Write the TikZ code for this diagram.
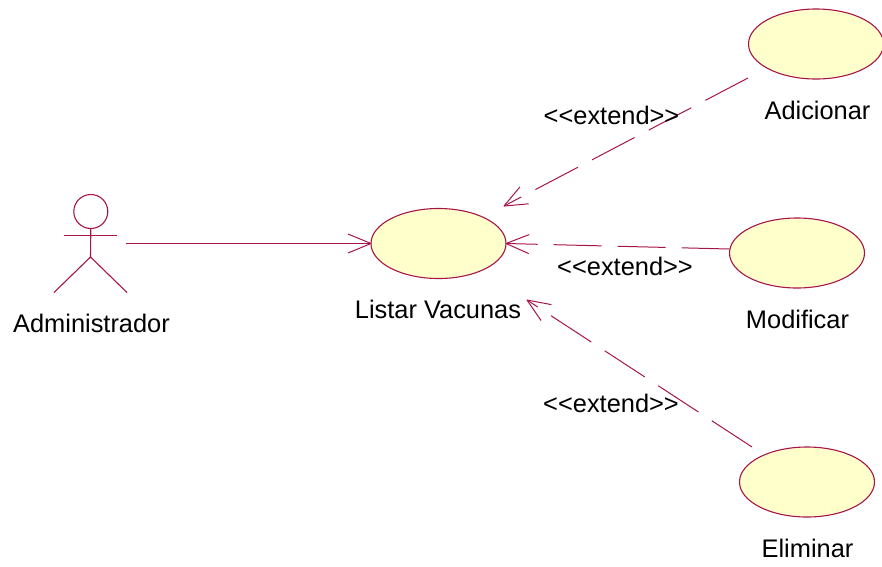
\documentclass[tikz,border=0pt]{standalone}
\usepackage{fontspec}
\setmainfont{Liberation Sans}
\usetikzlibrary{shapes.geometric,arrows.meta}
\definecolor{umlline}{HTML}{A6154A}
\definecolor{umlfill}{HTML}{FFFFCB}
\pgfdeclarearrow{
  name=OpenV,
  setup code={%
    \pgfarrowssettipend{0pt}%
    \pgfarrowssetlineend{-0.5pt}%
    \pgfarrowssetbackend{-23pt}%
    \pgfarrowssetvisualbackend{-23pt}%
    \pgfarrowshullpoint{-23pt}{9.5pt}%
    \pgfarrowshullpoint{-23pt}{-9.5pt}%
    \pgfarrowshullpoint{0pt}{0pt}%
  },
  drawing code={%
    \pgfsetdash{}{0pt}%
    \pgfsetroundjoin
    \pgfpathmoveto{\pgfpoint{-23pt}{9.5pt}}%
    \pgfpathlineto{\pgfpointorigin}%
    \pgfpathlineto{\pgfpoint{-23pt}{-9.5pt}}%
    \pgfusepathqstroke
  },
}
\tikzset{
  usecase/.style={ellipse,draw=umlline,fill=umlfill,line width=1.1pt,minimum width=135pt,minimum height=70pt,inner sep=0pt,outer sep=0pt},
  actorline/.style={draw=umlline,line width=1.1pt},
  assoc/.style={draw=umlline,line width=1pt,-{OpenV}},
  extendline/.style={assoc,dash pattern=on 48pt off 16pt},
  lbl/.style={anchor=base,inner sep=0pt,font=\fontsize{25.4}{30}\selectfont,text=black},
}
\begin{document}
\begin{tikzpicture}[x=1pt,y=-1pt]
\useasboundingbox (0,0) rectangle (882,566);
\clip (0,0) rectangle (882,566);
% actor
\node[circle,actorline,minimum size=34pt,inner sep=0pt,outer sep=0pt] (head) at (90.8,211.5) {};
\coordinate (hip) at (90.5,257);
\coordinate (armL) at (64,235.5);
\coordinate (armR) at (117,235.5);
\coordinate (footL) at (54,292.5);
\coordinate (footR) at (127,292.5);
\coordinate (actorhand) at (125.5,243.5);
\draw[actorline] (head.south) -- (hip);
\draw[actorline] (armL) -- (armR);
\draw[actorline] (footL) -- (hip) -- (footR);
% use cases
\node[usecase] (listar) at (438.5,243.5) {};
\node[usecase] (adicionar) at (816,44) {};
\node[usecase] (modificar) at (797,253) {};
\node[usecase] (eliminar) at (807,482) {};
% connectors
\draw[assoc] (actorhand) -- (listar.west);
\draw[extendline,shorten <=76.9pt,shorten >=73.9pt] ([yshift=1.7pt]adicionar.center) -- ([yshift=3.1pt]listar.center);
\draw[extendline] ([yshift=4pt]modificar.west) -- (listar.east);
\draw[extendline,shorten <=65.7pt,shorten >=105.7pt] ([yshift=-0.9pt]eliminar.center) -- ([yshift=1.3pt]listar.center);
% labels
\node[lbl] (tadmin) at (91.5,332.5) {Administrador};
\node[lbl] (tlistar) at (438,318.5) {Listar Vacunas};
\node[lbl] (tadic) at (817.5,119) {Adicionar};
\node[lbl] (tmod) at (797.5,328) {Modificar};
\node[lbl] (telim) at (807.5,557.5) {Eliminar};
\node[lbl] (ext1) at (611.5,124) {<{}<extend>{}>};
\node[lbl] (ext2) at (625,275) {<{}<extend>{}>};
\node[lbl] (ext3) at (611,412.5) {<{}<extend>{}>};
\end{tikzpicture}
\end{document}
